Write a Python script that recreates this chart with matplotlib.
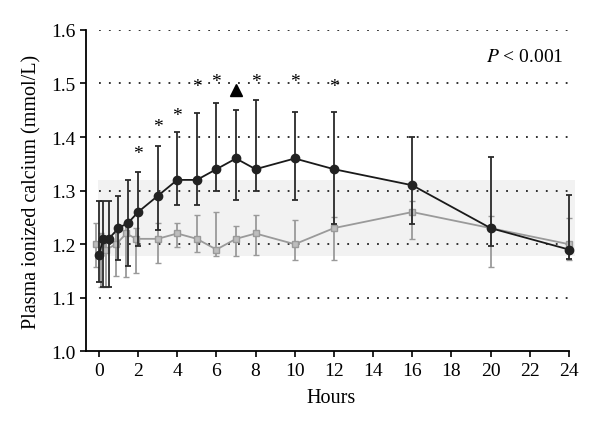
import numpy as np
import matplotlib
matplotlib.use("Agg")
import matplotlib.pyplot as plt

plt.rcParams['font.family'] = ['Liberation Serif', 'DejaVu Serif']

# treatment group (black circles)
t_black = [0, 0.22, 0.5, 1, 1.5, 2, 3, 4, 5, 6, 7, 8, 10, 12, 16, 20, 24]
ca_black = [1.18, 1.21, 1.21, 1.23, 1.24, 1.26, 1.29, 1.32, 1.32, 1.34, 1.36, 1.34, 1.36, 1.34, 1.31, 1.23, 1.19]
hi_black = [1.28, 1.28, 1.28, 1.29, 1.32, 1.335, 1.383, 1.41, 1.445, 1.463, 1.45, 1.47, 1.447, 1.447, 1.40, 1.362, 1.292]
lo_black = [1.13, 1.12, 1.12, 1.17, 1.16, 1.197, 1.227, 1.273, 1.273, 1.30, 1.282, 1.30, 1.282, 1.237, 1.237, 1.197, 1.172]

# control group (grey squares)
t_grey = [-0.15, 0.12, 0.37, 0.88, 1.4, 1.9, 3, 4, 5, 6, 7, 8, 10, 12, 16, 20, 24]
ca_grey = [1.20, 1.20, 1.19, 1.20, 1.22, 1.21, 1.21, 1.22, 1.21, 1.19, 1.21, 1.22, 1.20, 1.23, 1.26, 1.23, 1.20]
hi_grey = [1.24, 1.22, 1.215, 1.22, 1.24, 1.23, 1.24, 1.24, 1.255, 1.26, 1.234, 1.254, 1.245, 1.25, 1.28, 1.253, 1.248]
lo_grey = [1.157, 1.12, 1.12, 1.14, 1.138, 1.147, 1.165, 1.195, 1.185, 1.178, 1.178, 1.18, 1.17, 1.17, 1.21, 1.158, 1.17]

# significance marks
star_t = [2, 3, 4, 5, 6, 8, 10, 12]
star_y = [1.37, 1.42, 1.441, 1.495, 1.503, 1.503, 1.503, 1.495]
tri_t = [7]
tri_y = [1.487]

normal_range = (1.178, 1.32)
yticks = [1.0, 1.1, 1.2, 1.3, 1.4, 1.5, 1.6]
xticks = list(range(0, 25, 2))

fig = plt.figure(figsize=(6, 4.35), dpi=100)
ax = fig.add_axes([0.1433, 0.19, 0.818, 0.739])

x0, x1 = -0.66, 24.4
ax.set_xlim(x0, x1)
ax.set_ylim(1.0, 1.6)

# reference range band
ax.fill_between([-0.05, 24.3], normal_range[0], normal_range[1],
                color='#f2f2f2', lw=0, zorder=0)

# dotted grid lines
ax.hlines(yticks[1:], 0, 24, colors='#222222', linestyles=(0, (1, 4.5)),
          lw=1.3, zorder=1)

grey_err = [np.array(ca_grey) - np.array(lo_grey), np.array(hi_grey) - np.array(ca_grey)]
ax.errorbar(t_grey, ca_grey, yerr=grey_err, color='#9a9a9a', ecolor='#9a9a9a',
            lw=1.3, elinewidth=1.3, capsize=2.3, capthick=1.3, marker='s',
            markersize=5, mfc='#bdbdbd', mec='#9a9a9a', mew=1, zorder=3,
            clip_on=False)

black_err = [np.array(ca_black) - np.array(lo_black), np.array(hi_black) - np.array(ca_black)]
ax.errorbar(t_black, ca_black, yerr=black_err, color='#1a1a1a', ecolor='#2a2a2a',
            lw=1.3, elinewidth=1.3, capsize=2.3, capthick=1.3, marker='o',
            markersize=6, mfc='#222222', mec='#222222', zorder=4, clip_on=False)

for tx, ty in zip(star_t, star_y):
    ax.text(tx, ty, '*', ha='center', va='center', fontsize=14)
ax.plot(tri_t, tri_y, '^', color='black', markersize=8, zorder=5)

ax.text(23.7, 1.55, r'$P$ < 0.001', ha='right', va='center', fontsize=14,
        math_fontfamily='stix')

ax.spines['top'].set_visible(False)
ax.spines['right'].set_visible(False)
ax.spines['bottom'].set_bounds(x0, 24)
for s in ('left', 'bottom'):
    ax.spines[s].set_linewidth(1.3)

ax.set_xticks(xticks)
ax.set_yticks(yticks)
ax.set_yticklabels([f'{v:.1f}' for v in yticks])
ax.tick_params(axis='both', labelsize=14, width=1.2, length=4, direction='out')
ax.set_xlabel('Hours', fontsize=14.5, labelpad=7)
ax.set_ylabel('Plasma ionized calcium (mmol/L)', fontsize=14.5, labelpad=7)

fig.savefig('out.png', dpi=100)
